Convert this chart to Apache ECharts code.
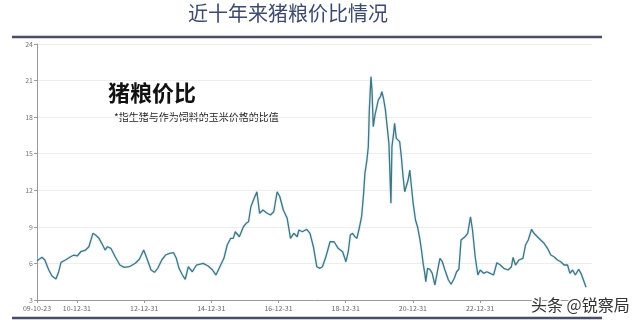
<!DOCTYPE html>
<html><head><meta charset="utf-8">
<script src="https://cdn.jsdelivr.net/npm/echarts@6/dist/echarts.min.js"></script>
<style>html,body{margin:0;padding:0;background:#fff}#c{width:640px;height:325px}</style>
</head><body><div id="c"></div>
<script>
const dates = ['2009-10-23','2009-12-16','2010-01-16','2010-02-28','2010-04-04','2010-05-17','2010-06-16','2010-07-11','2010-08-28','2010-10-23','2010-11-28','2011-01-04','2011-02-10','2011-04-04','2011-05-10','2011-06-23','2011-07-22','2011-08-28','2011-09-27','2011-11-03','2011-11-28','2012-01-04','2012-02-20','2012-04-11','2012-05-28','2012-07-22','2012-09-26','2012-11-09','2012-12-26','2013-01-29','2013-03-16','2013-04-22','2013-05-28','2013-07-10','2013-08-20','2013-10-03','2013-11-16','2013-12-16','2014-01-14','2014-02-20','2014-03-23','2014-04-25','2014-06-08','2014-07-22','2014-10-03','2014-11-27','2015-01-14','2015-02-20','2015-04-03','2015-05-17','2015-06-22','2015-07-30','2015-08-27','2015-09-18','2015-11-01','2015-12-15','2016-01-14','2016-02-09','2016-03-05','2016-04-10','2016-05-10','2016-06-08','2016-07-15','2016-08-21','2016-10-04','2016-11-09','2016-12-16','2017-01-14','2017-02-21','2017-04-04','2017-05-10','2017-06-15','2017-07-22','2017-08-09','2017-09-16','2017-11-02','2017-12-08','2018-01-14','2018-02-20','2018-03-26','2018-04-22','2018-05-28','2018-07-14','2018-08-27','2018-10-10','2018-11-28','2019-01-03','2019-01-28','2019-02-19','2019-03-16','2019-04-10','2019-05-02','2019-05-27','2019-06-22','2019-07-14','2019-07-28','2019-08-19','2019-09-03','2019-09-14','2019-10-02','2019-10-13','2019-10-27','2019-11-15','2019-12-04','2019-12-21','2020-01-13','2020-01-28','2020-02-15','2020-03-07','2020-03-26','2020-04-14','2020-04-25','2020-05-06','2020-05-17','2020-06-04','2020-06-15','2020-07-03','2020-07-22','2020-08-09','2020-08-27','2020-09-15','2020-10-03','2020-10-21','2020-11-09','2020-11-27','2020-12-15','2021-01-03','2021-01-28','2021-02-19','2021-03-15','2021-04-03','2021-04-21','2021-05-09','2021-05-20','2021-06-08','2021-07-03','2021-07-29','2021-08-27','2021-09-26','2021-10-21','2021-11-16','2021-12-14','2022-01-21','2022-02-19','2022-03-26','2022-04-20','2022-05-15','2022-06-07','2022-06-28','2022-07-20','2022-08-19','2022-09-18','2022-10-10','2022-11-08','2022-12-07','2023-01-02','2023-02-08','2023-03-15','2023-04-20','2023-05-27','2023-07-02','2023-08-08','2023-09-15','2023-11-01','2023-12-07','2023-12-25','2024-01-20','2024-02-26','2024-04-10','2024-05-08','2024-06-07','2024-07-13','2024-08-08','2024-09-14','2024-10-20','2024-11-26','2025-01-02','2025-02-07','2025-03-14','2025-04-20','2025-05-26','2025-07-02','2025-08-08','2025-09-03','2025-10-02','2025-11-01','2025-12-07','2026-01-01','2026-01-28','2026-02-25'];
const ratio = [6.22,6.50,6.28,5.46,4.97,4.72,5.32,6.09,6.28,6.55,6.69,6.61,6.96,7.10,7.37,8.47,8.33,8.06,7.65,7.10,7.37,7.24,6.55,5.87,5.68,5.73,6.01,6.34,7.10,6.42,5.46,5.27,5.60,6.28,6.69,6.83,6.88,6.42,5.60,5.05,4.70,5.73,5.32,5.87,6.01,5.79,5.46,5.05,5.73,6.42,7.51,8.06,8.06,8.60,8.19,9.01,9.29,9.42,10.65,11.34,11.88,10.11,10.38,10.16,9.97,10.24,11.88,11.47,10.38,9.70,8.06,8.47,8.19,8.74,8.60,8.80,8.47,7.37,5.73,5.60,5.73,6.50,7.78,7.78,7.24,6.96,6.14,6.96,8.33,8.47,8.19,8.06,8.88,9.83,11.75,13.39,14.48,15.58,18.59,21.32,20.23,17.22,18.18,18.04,19.41,19.68,20.09,19.55,18.59,17.22,15.85,13.39,10.93,15.58,16.67,17.50,16.26,16.13,15.99,14.76,13.11,11.88,12.02,12.84,13.66,12.29,10.93,9.56,9.01,8.06,7.10,6.01,5.19,4.50,5.60,5.52,5.19,4.23,5.46,6.42,6.14,5.46,4.64,4.29,4.78,5.32,5.52,7.92,7.78,8.19,8.47,9.83,8.74,6.55,5.05,5.46,5.19,5.32,5.19,5.05,6.06,5.87,5.60,5.46,5.73,6.50,5.87,6.28,6.42,7.51,7.92,8.80,8.47,8.19,7.92,7.65,7.24,6.69,6.55,6.28,6.14,5.87,5.87,5.19,5.46,5.05,5.52,5.19,4.64,4.04];
const tickDates = ['2009-10-23','2010-12-31','2012-12-31','2014-12-31','2016-12-31','2018-12-31','2020-12-31','2022-12-31','2024-12-31'];
const tickLabels = ['09-10-23','10-12-31','12-12-31','14-12-31','16-12-31','18-12-31','20-12-31','22-12-31','24-12-31'];
const yTicks = [3,6,9,12,15,18,21,24];
const titleText = '近十年来猪粮价比情况';
const headText = '猪粮价比';
const noteText = '*指生猪与作为饲料的玉米价格的比值';
const markText = '头条 @锐察局';

const ts = s => Date.UTC(+s.slice(0,4), +s.slice(5,7) - 1, +s.slice(8,10));
const tickTs = tickDates.map(ts);
const labelMap = {};
tickTs.forEach((t, i) => labelMap[t] = tickLabels[i]);

const chart = echarts.init(document.getElementById('c'), null, {renderer: 'canvas'});
const font = '"Noto Sans CJK SC", "Noto Sans", sans-serif';
chart.setOption({
  animation: false,
  backgroundColor: '#fff',
  textStyle: {fontFamily: font},
  grid: {left: 37, right: 48, top: 44, bottom: 25},
  xAxis: {
    type: 'value',
    min: tickTs[0],
    max: ts('2026-05-01'),
    axisLine: {lineStyle: {color: '#9a9a9a', width: 1}},
    axisTick: {show: true, customValues: tickTs, length: 3, lineStyle: {color: '#9a9a9a'}},
    axisLabel: {customValues: tickTs, fontSize: 7, color: '#666', margin: 5,
      formatter: v => labelMap[v] || ''},
    splitLine: {show: false}
  },
  yAxis: {
    type: 'value', min: yTicks[0], max: yTicks[yTicks.length - 1], interval: 3,
    axisLine: {show: true, lineStyle: {color: '#9a9a9a', width: 1}},
    axisTick: {show: true, length: 3, lineStyle: {color: '#9a9a9a'}},
    axisLabel: {fontSize: 7, color: '#777', margin: 4},
    splitLine: {show: true, lineStyle: {color: '#eeeeee', width: 1}}
  },
  series: [{
    type: 'line',
    data: dates.map((d, i) => [ts(d), ratio[i]]),
    showSymbol: false,
    smooth: false,
    lineStyle: {color: '#447383', width: 1.3, shadowColor: 'rgba(120,200,215,0.6)', shadowBlur: 2}
  }],
  graphic: [
    {type: 'text', x: 188, y: 3, style: {text: titleText, font: '20px ' + font, fill: '#3b4a6e'}},
    {type: 'line', shape: {x1: 12, y1: 37, x2: 602, y2: 37}, style: {stroke: '#4a4d6a', lineWidth: 2.5}},
    {type: 'line', shape: {x1: 12, y1: 318, x2: 602, y2: 318}, style: {stroke: '#4a4d6a', lineWidth: 2.5}},
    {type: 'text', x: 108, y: 82, style: {text: headText, font: 'bold 22px ' + font, fill: '#111'}},
    {type: 'text', x: 114, y: 112, style: {text: noteText, font: '10px ' + font, fill: '#222'}},
    {type: 'text', x: 531, y: 297, z: 100, style: {text: markText, font: '16px ' + font, fill: '#333', stroke: '#fff', lineWidth: 3}}
  ]
});
</script></body></html>
